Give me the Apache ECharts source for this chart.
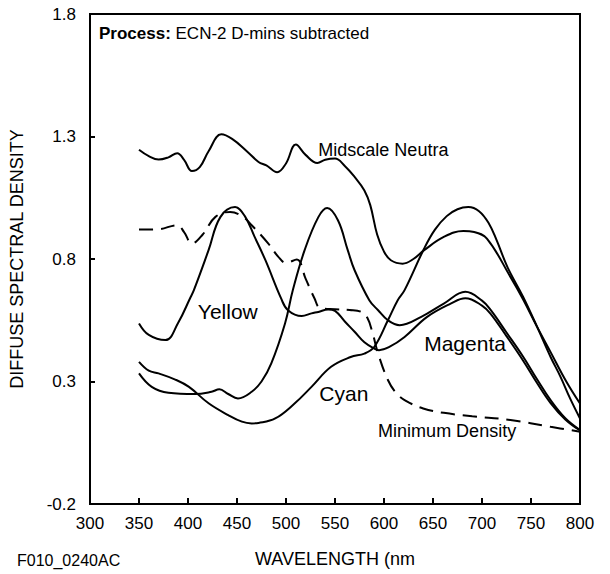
<!DOCTYPE html>
<html>
<head>
<meta charset="utf-8">
<script src="https://cdn.jsdelivr.net/npm/echarts@6.0.0/dist/echarts.min.js"></script>
<style>
  html, body { margin: 0; padding: 0; background: #fff; }
  #chart { width: 610px; height: 574px; }
</style>
</head>
<body>
<div id="chart"></div>
<script>
// wavelength (nm) / density pairs
var midscaleNeutral = [
    [350, 1.246], [360, 1.220], [370, 1.206], [380, 1.215], [389, 1.232], [396, 1.205],
    [404, 1.159], [412, 1.175], [421, 1.240], [434, 1.309], [445, 1.290], [460, 1.240],
    [472, 1.196], [480, 1.182], [491, 1.154], [500, 1.190], [510, 1.267], [520, 1.225],
    [532, 1.192], [540, 1.205], [550, 1.210], [560, 1.180], [570, 1.135], [580, 1.080],
    [586, 1.020], [593, 0.900], [600, 0.830], [607, 0.795], [619, 0.781], [630, 0.800],
    [641, 0.836], [661, 0.890], [681, 0.914], [692, 0.910], [705, 0.883], [729, 0.727],
    [742, 0.635], [756, 0.525], [770, 0.420], [786, 0.300], [800, 0.210]
];
var cyan = [
    [350, 0.380], [360, 0.344], [370, 0.333], [387, 0.308], [401, 0.278], [421, 0.211],
    [441, 0.163], [455, 0.136], [465, 0.129], [472, 0.131], [489, 0.149], [509, 0.211],
    [526, 0.278], [546, 0.360], [566, 0.400], [580, 0.414], [590, 0.441], [604, 0.550],
    [614, 0.632], [621, 0.673], [641, 0.843], [652, 0.920], [664, 0.975], [675, 1.003],
    [686, 1.012], [697, 0.995], [707, 0.945], [715, 0.876], [726, 0.767], [742, 0.645],
    [756, 0.525], [770, 0.400], [780, 0.320], [790, 0.230], [800, 0.149]
];
var magenta = [
    [350, 0.333], [363, 0.278], [380, 0.254], [407, 0.249], [424, 0.258], [432, 0.268],
    [441, 0.249], [451, 0.231], [465, 0.258], [475, 0.300], [485, 0.374], [499, 0.537],
    [507, 0.673], [519, 0.836], [533, 0.971], [542, 1.008], [553, 0.958], [563, 0.836],
    [570, 0.754], [585, 0.632], [594, 0.591], [604, 0.550], [616, 0.530], [638, 0.564],
    [661, 0.618], [683, 0.666], [700, 0.630], [709, 0.591], [725, 0.500], [742, 0.401],
    [756, 0.310], [770, 0.224], [785, 0.150], [800, 0.102]
];
var yellow = [
    [350, 0.537], [360, 0.490], [377, 0.469], [390, 0.540], [402, 0.639], [406, 0.673],
    [421, 0.836], [433, 0.971], [448, 1.012], [458, 0.975], [468, 0.890], [479, 0.795],
    [495, 0.639], [502, 0.591], [516, 0.567], [526, 0.578], [533, 0.584], [543, 0.594],
    [550, 0.588], [560, 0.545], [570, 0.503], [580, 0.460], [590, 0.435], [595, 0.428],
    [605, 0.440], [621, 0.482], [644, 0.564], [668, 0.618], [683, 0.640], [700, 0.610],
    [709, 0.575], [725, 0.485], [742, 0.385], [756, 0.295], [770, 0.212], [785, 0.145],
    [800, 0.100]
];
var minimumDensity = [
    [350, 0.920], [369, 0.921], [389, 0.938], [396, 0.910], [404, 0.863], [415, 0.900],
    [428, 0.972], [443, 0.992], [455, 0.975], [465, 0.938], [482, 0.863], [492, 0.810],
    [500, 0.784], [511, 0.798], [520, 0.720], [529, 0.640], [535, 0.600], [550, 0.595],
    [565, 0.592], [577, 0.584], [583, 0.560], [588, 0.503], [594, 0.414], [604, 0.306],
    [612, 0.255], [621, 0.224], [640, 0.190], [661, 0.172], [690, 0.158], [729, 0.143],
    [770, 0.115], [800, 0.095]
];

// curve names, anchored at [nm, density]
var curveLabels = [
    [533, 1.245, 'Midscale Neutra'],
    [410, 0.584, 'Yellow'],
    [641, 0.457, 'Magenta'],
    [534, 0.249, 'Cyan'],
    [594, 0.097, 'Minimum Density']
];
var xTicks = [300, 350, 400, 450, 500, 550, 600, 650, 700, 750, 800];
var yTicks = [-0.2, 0.3, 0.8, 1.3, 1.8];

var font = "'Liberation Sans', Arial, sans-serif";
var ink = '#000';
var bigNames = ['Yellow', 'Magenta', 'Cyan'];

function curve(name, data, dashed) {
    return {
        name: name,
        type: 'line',
        data: data,
        smooth: 0.4,
        symbol: 'none',
        silent: true,
        lineStyle: {
            color: '#000',
            width: 2,
            type: dashed ? [14, 8] : 'solid'
        }
    };
}

var chart = echarts.init(document.getElementById('chart'), null, {renderer: 'svg'});

var option = {
    animation: false,
    backgroundColor: '#fff',
    title: {
        left: 99,
        top: 25,
        padding: 0,
        text: '{b|Process:} ECN-2 D-mins subtracted',
        textStyle: {
            fontFamily: font,
            fontSize: 17,
            fontWeight: 'normal',
            color: ink,
            rich: {
                b: {fontFamily: font, fontSize: 17, fontWeight: 'bold', color: ink}
            }
        }
    },
    grid: {
        left: 88,
        right: 30,
        top: 14,
        bottom: 70,
        show: true,
        borderColor: '#000',
        borderWidth: 2
    },
    xAxis: {
        type: 'value',
        min: 300,
        max: 800,
        interval: 50,
        name: 'WAVELENGTH (nm',
        nameLocation: 'middle',
        nameGap: 46,
        nameTextStyle: {fontFamily: font, fontSize: 18, color: ink},
        axisLine: {onZero: false, lineStyle: {color: '#000', width: 2}},
        axisTick: {inside: true, length: 6, lineStyle: {color: '#000', width: 2}},
        axisLabel: {
            fontFamily: font, fontSize: 17, color: ink, margin: 11,
            customValues: xTicks
        },
        splitLine: {show: false}
    },
    yAxis: {
        type: 'value',
        min: -0.2,
        max: 1.8,
        name: 'DIFFUSE SPECTRAL DENSITY',
        nameLocation: 'middle',
        nameGap: 64,
        nameTextStyle: {fontFamily: font, fontSize: 18, color: ink},
        axisLine: {onZero: false, lineStyle: {color: '#000', width: 2}},
        axisTick: {inside: true, length: 5, lineStyle: {color: '#000', width: 2}, customValues: yTicks},
        axisLabel: {
            fontFamily: font, fontSize: 17, color: ink, margin: 14,
            customValues: yTicks,
            formatter: function(v) { return v.toFixed(1); }
        },
        splitLine: {show: false}
    },
    graphic: [{
        type: 'text',
        left: 17,
        top: 552,
        style: {text: 'F010_0240AC', fontFamily: font, fontSize: 16, fill: ink}
    }],
    series: [
        curve('Midscale Neutral', midscaleNeutral, false),
        curve('Cyan', cyan, false),
        curve('Magenta', magenta, false),
        curve('Yellow', yellow, false),
        curve('Minimum Density', minimumDensity, true),
        {
            type: 'scatter',
            silent: true,
            symbolSize: 0,
            itemStyle: {opacity: 1},
            data: curveLabels.map(function(item) {
                return {
                    value: [item[0], item[1]],
                    label: {
                        show: true,
                        position: 'right',
                        distance: 0,
                        formatter: item[2],
                        fontFamily: font,
                        fontSize: bigNames.indexOf(item[2]) >= 0 ? 21 : 18,
                        color: ink
                    }
                };
            })
        }
    ]
};

chart.setOption(option);
</script>
</body>
</html>
